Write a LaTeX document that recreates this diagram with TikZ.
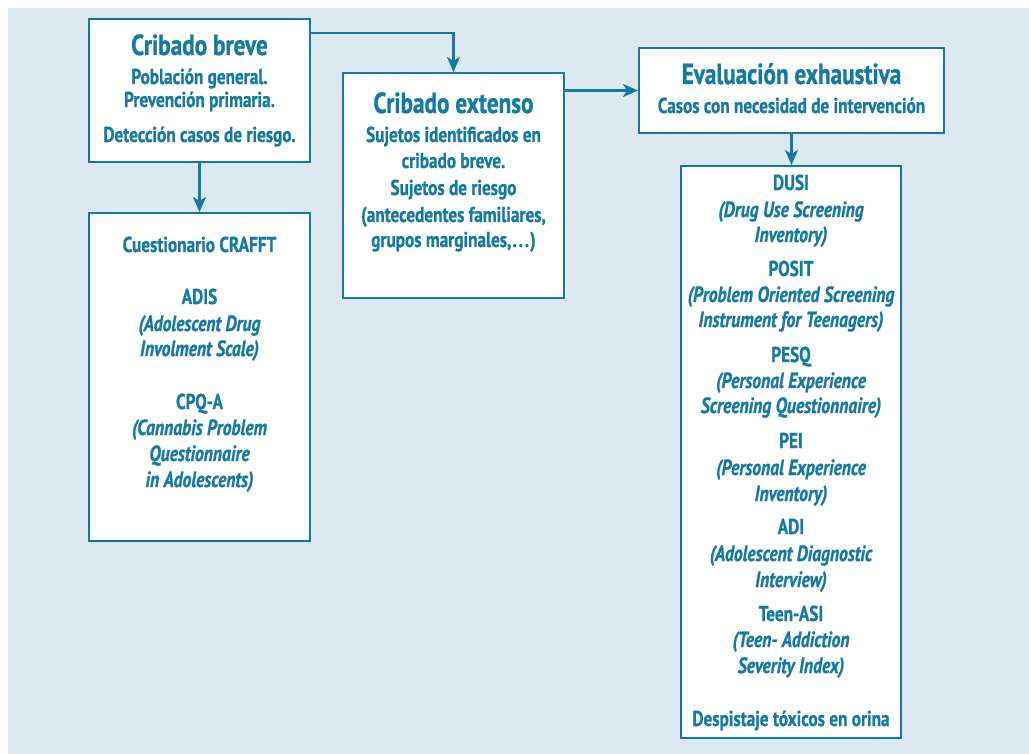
\documentclass[tikz,border=0pt]{standalone}
\usepackage{fontspec}
\setmainfont{PT Sans}[FakeStretch=0.8, BoldFeatures={FakeBold=0.9}, BoldItalicFeatures={FakeBold=0.9}]
\usetikzlibrary{arrows.meta}
\definecolor{bg}{HTML}{DDE9F1}
\definecolor{ink}{HTML}{1479A3}
\begin{document}
\begin{tikzpicture}[x=1pt,y=-1pt,
  box/.style={draw=ink, line width=2pt, fill=white, inner sep=0pt},
  conn/.style={draw=ink, line width=2.6pt, -{Stealth[length=15pt,width=13pt,inset=4pt]}},
  ttl/.style={anchor=base, text=ink, inner sep=0pt, font=\bfseries\fontsize{29}{33}\selectfont},
  ln/.style={anchor=base, text=ink, inner sep=0pt, font=\bfseries\fontsize{21.5}{25}\selectfont},
  itl/.style={anchor=base, text=ink, inner sep=0pt, font=\bfseries\itshape\fontsize{22}{25}\selectfont}]
\useasboundingbox (0,0) rectangle (1029,754);
\fill[bg] (8,8) rectangle (1029,754);

% boxes
\node[box, minimum width=221pt, minimum height=143pt] (breve) at (199.5,91) {};
\node[box, minimum width=221pt, minimum height=328pt] (tests) at (199.5,377) {};
\node[box, minimum width=221pt, minimum height=225pt] (extenso) at (453.5,185.5) {};
\node[box, minimum width=305pt, minimum height=85pt] (eval) at (791.5,90.5) {};
\node[box, minimum width=220pt, minimum height=572pt] (instr) at (791,452) {};

% connectors
\draw[conn] ([yshift=-14.5pt]breve.north east) -| (extenso.north);
\draw[conn] (breve.south) -- (tests.north);
\draw[conn] (extenso.east |- eval.west) -- (eval.west);
\draw[conn] (eval.south) -- (eval.south |- instr.north);

% Cribado breve
\node[ttl] (breveA) at (199.5,55) {Cribado breve};
\node[ln] (breveB) at (199.5,84) {Población general.};
\node[ln] (breveC) at (199.5,107) {Prevención primaria.};
\node[ln] (breveD) at (199.5,142) {Detección casos de riesgo.};

% Cribado extenso
\node[ttl] (extA) at (453.5,113) {Cribado extenso};
\node[ln] (extB) at (453.5,142) {Sujetos identificados en};
\node[ln] (extC) at (453.5,168) {cribado breve.};
\node[ln] (extD) at (453.5,195) {Sujetos de riesgo};
\node[ln] (extE) at (453.5,222) {(antecedentes familiares,};
\node[ln] (extF) at (453.5,247) {grupos marginales,\kern1pt.\kern2pt.\kern2pt.\kern1pt)};

% Evaluacion exhaustiva
\node[ttl] (evA) at (791.5,84) {Evaluación exhaustiva};
\node[ln] (evB) at (791.5,113) {Casos con necesidad de intervención};

% screening questionnaires
\node[ln] (tsA) at (199.5,252) {Cuestionario CRAFFT};
\node[ln] (tsB) at (199.5,304) {ADIS};
\node[itl] (tsC) at (199.5,331) {(Adolescent Drug};
\node[itl] (tsD) at (199.5,356) {Involment Scale)};
\node[ln] (tsE) at (199.5,409) {CPQ-A};
\node[itl] (tsF) at (199.5,435) {(Cannabis Problem};
\node[itl] (tsG) at (199.5,461) {Questionnaire};
\node[itl] (tsH) at (199.5,487) {in Adolescents)};

% assessment instruments
\node[ln] (inA) at (791,190) {DUSI};
\node[itl] (inB) at (791,217) {(Drug Use Screening};
\node[itl] (inC) at (791,242) {Inventory)};
\node[ln] (inD) at (791,276) {POSIT};
\node[itl] (inE) at (791,302) {(Problem Oriented Screening};
\node[itl] (inF) at (791,327) {Instrument for Teenagers)};
\node[ln] (inG) at (791,362) {PESQ};
\node[itl] (inH) at (791,388) {(Personal Experience};
\node[itl] (inI) at (791,413) {Screening Questionnaire)};
\node[ln] (inJ) at (791,448) {PEI};
\node[itl] (inK) at (791,475) {(Personal Experience};
\node[itl] (inL) at (791,501) {Inventory)};
\node[ln] (inM) at (791,534) {ADI};
\node[itl] (inN) at (791,561) {(Adolescent Diagnostic};
\node[itl] (inO) at (791,587) {Interview)};
\node[ln] (inP) at (791,621) {Teen-ASI};
\node[itl] (inQ) at (791,647) {(Teen- Addiction};
\node[itl] (inR) at (791,673) {Severity Index)};
\node[ln] (inS) at (791,726) {Despistaje tóxicos en orina};
\end{tikzpicture}
\end{document}
